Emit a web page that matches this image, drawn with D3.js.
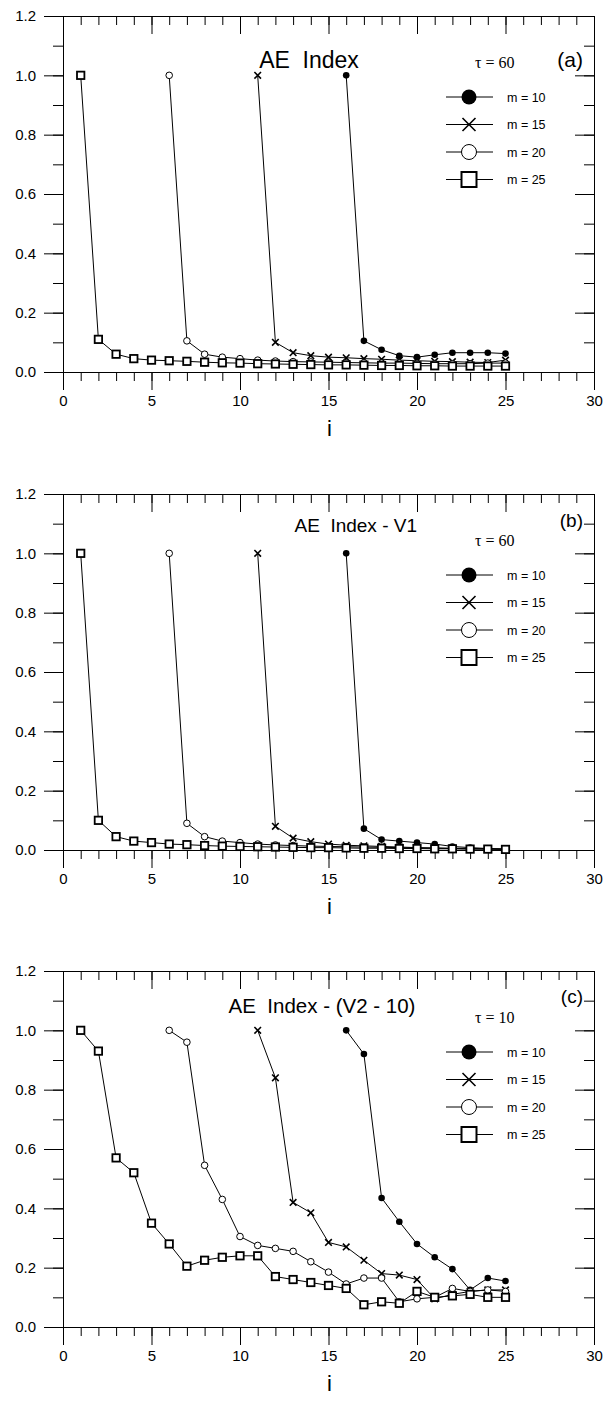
<!DOCTYPE html>
<html>
<head>
<meta charset="utf-8">
<script src="https://cdn.jsdelivr.net/npm/d3@7"></script>
<style>
  body { margin: 0; background: #fff; }
  text { font-family: "Liberation Sans", Arial, sans-serif; }
</style>
</head>
<body>
<div id="chart-wrapper"></div>
<script>

//////////////////////////////////////////////////
/////////////////// Data /////////////////////////
//////////////////////////////////////////////////

// i values for each embedding dimension
const iM10 = [16, 17, 18, 19, 20, 21, 22, 23, 24, 25]
const iM15 = [11, 12, 13, 14, 15, 16, 17, 18, 19, 20, 21, 22, 23, 24, 25]
const iM20 = [6, 7, 8, 9, 10, 11, 12, 13, 14, 15, 16, 17, 18, 19, 20, 21, 22, 23, 24, 25]
const iM25 = [1, 2, 3, 4, 5, 6, 7, 8, 9, 10, 11, 12, 13, 14, 15, 16, 17, 18, 19, 20, 21, 22, 23, 24, 25]

// (a) AE Index, tau = 60
const aM10 = [1.0, 0.105, 0.075, 0.055, 0.05, 0.058, 0.065, 0.065, 0.065, 0.062]
const aM15 = [1.0, 0.10, 0.065, 0.055, 0.05, 0.048, 0.045, 0.043, 0.04, 0.038, 0.036, 0.035, 0.033, 0.032, 0.04]
const aM20 = [1.0, 0.105, 0.06, 0.05, 0.045, 0.04, 0.037, 0.035, 0.034, 0.033, 0.032, 0.031, 0.03, 0.03, 0.029, 0.028, 0.028, 0.028, 0.03, 0.03]
const aM25 = [1.0, 0.11, 0.06, 0.045, 0.04, 0.038, 0.036, 0.033, 0.031, 0.03, 0.028, 0.027, 0.026, 0.025, 0.024, 0.024, 0.023, 0.022, 0.022, 0.021, 0.021, 0.02, 0.02, 0.02, 0.02]

// (b) AE Index - V1, tau = 60
const bM10 = [1.0, 0.072, 0.035, 0.03, 0.025, 0.02, 0.012, 0.008, 0.005, 0.003]
const bM15 = [1.0, 0.08, 0.04, 0.028, 0.02, 0.016, 0.014, 0.012, 0.01, 0.008, 0.007, 0.006, 0.005, 0.004, 0.003]
const bM20 = [1.0, 0.09, 0.045, 0.03, 0.025, 0.02, 0.017, 0.015, 0.013, 0.012, 0.011, 0.01, 0.009, 0.008, 0.007, 0.006, 0.005, 0.004, 0.004, 0.003]
const bM25 = [1.0, 0.10, 0.045, 0.03, 0.025, 0.02, 0.018, 0.015, 0.013, 0.012, 0.011, 0.01, 0.009, 0.008, 0.008, 0.007, 0.006, 0.006, 0.005, 0.005, 0.004, 0.004, 0.003, 0.003, 0.002]

// (c) AE Index - (V2 - 10), tau = 10
const cM10 = [1.0, 0.92, 0.435, 0.355, 0.28, 0.235, 0.195, 0.125, 0.165, 0.155]
const cM15 = [1.0, 0.84, 0.42, 0.385, 0.285, 0.27, 0.225, 0.18, 0.175, 0.16, 0.095, 0.11, 0.12, 0.125, 0.125]
const cM20 = [1.0, 0.96, 0.545, 0.43, 0.305, 0.275, 0.265, 0.255, 0.22, 0.185, 0.145, 0.165, 0.165, 0.085, 0.095, 0.10, 0.13, 0.12, 0.125, 0.12]
const cM25 = [1.0, 0.93, 0.57, 0.52, 0.35, 0.28, 0.205, 0.225, 0.235, 0.24, 0.24, 0.17, 0.16, 0.15, 0.14, 0.13, 0.075, 0.085, 0.08, 0.12, 0.10, 0.105, 0.11, 0.10, 0.10]

const legendLabels = ["m = 10", "m = 15", "m = 20", "m = 25"]
const markerTypes = ["dot", "cross", "circle", "square"]
const xTicks = [0, 5, 10, 15, 20, 25, 30]
const yTicks = [0.0, 0.2, 0.4, 0.6, 0.8, 1.0, 1.2]

const panels = [
  {title: "AE  Index", label: "(a)", tau: "60", series: [[iM10, aM10], [iM15, aM15], [iM20, aM20], [iM25, aM25]]},
  {title: "AE  Index - V1", label: "(b)", tau: "60", series: [[iM10, bM10], [iM15, bM15], [iM20, bM20], [iM25, bM25]]},
  {title: "AE  Index - (V2 - 10)", label: "(c)", tau: "10", series: [[iM10, cM10], [iM15, cM15], [iM20, cM20], [iM25, cM25]]},
]

//////////////////////////////////////////////////
/////////////////// Constants ////////////////////
//////////////////////////////////////////////////

const width = 606
const height = 1402
const panelTops = [16, 494, 971]
const plotH = 356
const plotLeft = 63
const plotRight = 594
const titleStyle = [
  {size: 23, x: 309, anchor: "middle", dy: 52, labelSize: 21, labelDy: 51},
  {size: 19, x: 417, anchor: "end", dy: 38, labelSize: 19, labelDy: 33},
  {size: 20.5, x: 322, anchor: "middle", dy: 42, labelSize: 19, labelDy: 32},
]

const svg = d3.select("#chart-wrapper")
  .append("svg")
    .attr("width", width)
    .attr("height", height)

const xScale = d3.scaleLinear().domain([0, 30]).range([plotLeft, plotRight])

// draw one marker of a given type into a selection
function drawMarker(sel, type, r, sw) {
  if (type === "dot") {
    sel.append("circle").attr("r", r).attr("fill", "#000")
  } else if (type === "circle") {
    sel.append("circle").attr("r", r).attr("fill", "#fff").attr("stroke", "#000").attr("stroke-width", sw)
  } else if (type === "square") {
    sel.append("rect").attr("x", -r).attr("y", -r).attr("width", 2 * r).attr("height", 2 * r)
      .attr("fill", "#fff").attr("stroke", "#000").attr("stroke-width", sw)
  } else {
    sel.append("path").attr("d", `M${-r},${-r}L${r},${r}M${-r},${r}L${r},${-r}`)
      .attr("stroke", "#000").attr("stroke-width", sw).attr("fill", "none")
  }
}

panels.forEach((p, pi) => {
  const top = panelTops[pi]
  const st = titleStyle[pi]
  const g = svg.append("g")
  const yScale = d3.scaleLinear().domain([0, 1.2]).range([top + plotH, top])

  /// Axes (minor + major) ///
  const minorX = d3.range(0, 31, 1)
  const minorY = d3.range(0, 13, 1).map(d => d / 10)
  const axisStyle = sel => sel
    .call(s => s.selectAll("line").attr("stroke", "#000"))
    .call(s => s.select(".domain").attr("stroke", "#000"))
    .call(s => s.selectAll("text").attr("fill", "#000").style("font-size", "15px").style("font-family", "Liberation Sans, Arial, sans-serif"))

  // bottom: outward
  g.append("g").attr("transform", `translate(0,${top + plotH})`)
    .call(d3.axisBottom(xScale).tickValues(minorX).tickSize(9).tickFormat("").tickSizeOuter(0)).call(axisStyle)
  g.append("g").attr("transform", `translate(0,${top + plotH})`)
    .call(d3.axisBottom(xScale).tickValues(xTicks).tickSize(18).tickPadding(5).tickFormat(d3.format("d")).tickSizeOuter(0)).call(axisStyle)
  // top: inward
  g.append("g").attr("transform", `translate(0,${top})`)
    .call(d3.axisTop(xScale).tickValues(minorX).tickSize(-9).tickFormat("").tickSizeOuter(0)).call(axisStyle)
  g.append("g").attr("transform", `translate(0,${top})`)
    .call(d3.axisTop(xScale).tickValues(xTicks).tickSize(-18).tickFormat("").tickSizeOuter(0)).call(axisStyle)
  // left: outward
  g.append("g").attr("transform", `translate(${plotLeft},0)`)
    .call(d3.axisLeft(yScale).tickValues(minorY).tickSize(10).tickFormat("").tickSizeOuter(0)).call(axisStyle)
  g.append("g").attr("transform", `translate(${plotLeft},0)`)
    .call(d3.axisLeft(yScale).tickValues(yTicks).tickSize(19).tickPadding(8).tickFormat(d3.format(".1f")).tickSizeOuter(0)).call(axisStyle)
  // right: inward
  g.append("g").attr("transform", `translate(${plotRight},0)`)
    .call(d3.axisRight(yScale).tickValues(minorY).tickSize(-10).tickFormat("").tickSizeOuter(0)).call(axisStyle)
  g.append("g").attr("transform", `translate(${plotRight},0)`)
    .call(d3.axisRight(yScale).tickValues(yTicks).tickSize(-19).tickFormat("").tickSizeOuter(0)).call(axisStyle)

  // x axis title
  g.append("text")
    .attr("x", (plotLeft + plotRight) / 2 + 1)
    .attr("y", top + plotH + 64)
    .attr("text-anchor", "middle")
    .style("font-size", "22px")
    .text("i")

  /// Series ///
  const line = d3.line().x(d => xScale(d[0])).y(d => yScale(d[1]))
  p.series.forEach(([xs, ys], si) => {
    const pts = xs.map((x, k) => [x, ys[k]])
    g.append("path")
      .datum(pts)
      .attr("fill", "none")
      .attr("stroke", "#000")
      .attr("stroke-width", 1)
      .attr("d", line)
    const type = markerTypes[si]
    const r = type === "square" ? 3.7 : 3.3
    const sw = type === "square" ? 1.8 : type === "cross" ? 1.6 : 1
    g.selectAll(null)
      .data(pts)
      .join("g")
        .attr("transform", d => `translate(${xScale(d[0])},${yScale(d[1])})`)
        .each(function() { drawMarker(d3.select(this), type, r, sw) })
  })

  /// Titles ///
  g.append("text")
    .attr("x", st.x)
    .attr("y", top + st.dy)
    .attr("text-anchor", st.anchor)
    .attr("xml:space", "preserve")
    .style("white-space", "pre")
    .style("font-size", `${st.size}px`)
    .text(p.title)
  g.append("text")
    .attr("x", plotRight - 11)
    .attr("y", top + st.labelDy)
    .attr("text-anchor", "end")
    .style("font-size", `${st.labelSize}px`)
    .text(p.label)

  /// Legend ///
  g.append("text")
    .attr("x", 475)
    .attr("y", top + 52)
    .style("font-family", "Liberation Serif, Times New Roman, serif")
    .style("font-size", "16px")
    .text(`τ = ${p.tau}`)
  legendLabels.forEach((lab, li) => {
    const ly = top + 81 + li * 27.5
    g.append("line")
      .attr("x1", 446).attr("x2", 493)
      .attr("y1", ly).attr("y2", ly)
      .attr("stroke", "#000").attr("stroke-width", 1)
    const mg = g.append("g").attr("transform", `translate(469,${ly})`)
    const type = markerTypes[li]
    drawMarker(mg, type, type === "cross" ? 6.5 : 7.5, type === "square" ? 2 : type === "cross" ? 1.6 : 1)
    g.append("text")
      .attr("x", 507)
      .attr("y", ly + 4.5)
      .style("font-size", "12.5px")
      .text(lab)
  })
})

</script>
</body>
</html>
